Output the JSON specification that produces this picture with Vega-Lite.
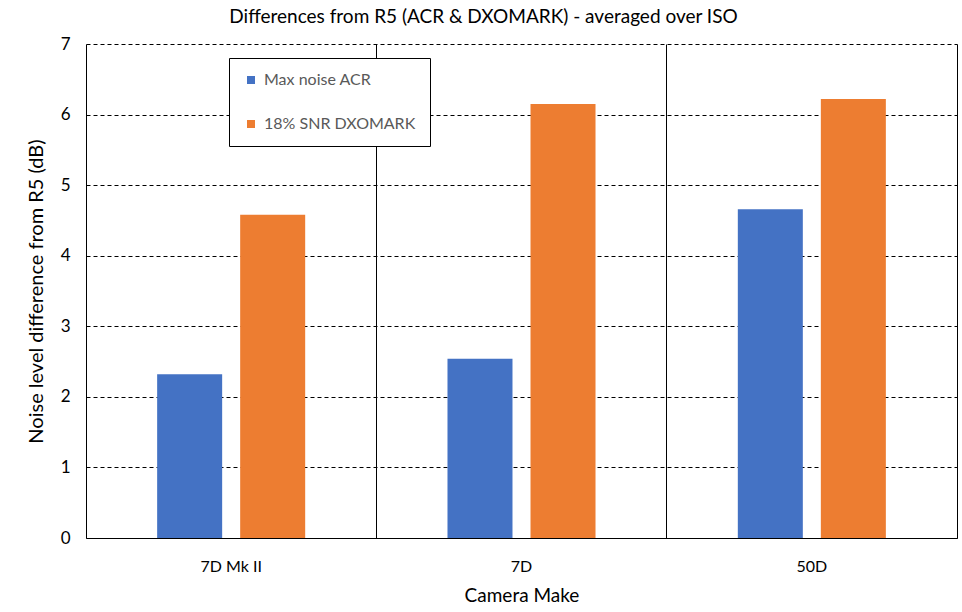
{
  "$schema": "https://vega.github.io/schema/vega-lite/v6.json",
  "autosize": "none",
  "width": 871,
  "height": 494,
  "padding": {"left": 86, "top": 44, "right": 5, "bottom": 74},
  "background": "white",
  "title": {
    "text": "Differences from R5 (ACR & DXOMARK) - averaged over ISO",
    "font": "Lato",
    "fontSize": 19,
    "fontWeight": "normal",
    "color": "#000000",
    "anchor": "middle",
    "dx": -38,
    "offset": 8
  },
  "data": {
    "values": [
      {"camera": "7D Mk II", "measure": "Max noise ACR", "diff": 2.32},
      {"camera": "7D Mk II", "measure": "18% SNR DXOMARK", "diff": 4.58},
      {"camera": "7D", "measure": "Max noise ACR", "diff": 2.54},
      {"camera": "7D", "measure": "18% SNR DXOMARK", "diff": 6.15},
      {"camera": "50D", "measure": "Max noise ACR", "diff": 4.66},
      {"camera": "50D", "measure": "18% SNR DXOMARK", "diff": 6.22}
    ]
  },
  "mark": "bar",
  "encoding": {
    "x": {
      "field": "camera",
      "type": "nominal",
      "sort": ["7D Mk II", "7D", "50D"],
      "title": "Camera Make",
      "scale": {"paddingInner": 0, "paddingOuter": 0},
      "axis": {
        "labelAngle": 0,
        "labelFontSize": 16,
        "labelPadding": 20,
        "titleFontSize": 19,
        "titlePadding": 12,
        "ticks": false,
        "grid": true,
        "bandPosition": 1,
        "gridColor": "#000000",
        "gridWidth": 1,
        "gridOpacity": 1
      }
    },
    "xOffset": {
      "field": "measure",
      "type": "nominal",
      "sort": ["Max noise ACR", "18% SNR DXOMARK"],
      "scale": {"paddingInner": 0.217, "paddingOuter": 0.857}
    },
    "y": {
      "field": "diff",
      "type": "quantitative",
      "title": "Noise level difference from R5 (dB)",
      "scale": {"domain": [0, 7], "nice": false},
      "axis": {
        "values": [0, 1, 2, 3, 4, 5, 6, 7],
        "labelOverlap": false,
        "labelFontSize": 17,
        "labelPadding": 16,
        "titleFontSize": 20,
        "titlePadding": 14,
        "ticks": false,
        "grid": true,
        "gridDash": [4, 3],
        "gridColor": "#000000",
        "gridWidth": 1,
        "gridOpacity": 1
      }
    },
    "color": {
      "field": "measure",
      "type": "nominal",
      "sort": ["Max noise ACR", "18% SNR DXOMARK"],
      "scale": {
        "domain": ["Max noise ACR", "18% SNR DXOMARK"],
        "range": ["#4472C4", "#ED7D31"]
      },
      "legend": {
        "title": null,
        "orient": "none",
        "legendX": 143,
        "legendY": 14,
        "symbolType": "square",
        "symbolSize": 64,
        "symbolStrokeWidth": 0,
        "labelFontSize": 16,
        "labelColor": "#595959",
        "labelFont": "Lato",
        "labelOffset": 5,
        "rowPadding": 28,
        "padding": 14,
        "strokeColor": "#000000",
        "fillColor": "#ffffff",
        "labelLimit": 300
      }
    }
  },
  "config": {
    "font": "Lato",
    "view": {"stroke": null},
    "axis": {
      "domainColor": "#000000",
      "domainWidth": 1,
      "labelColor": "#000000",
      "titleColor": "#000000",
      "titleFontWeight": "normal",
      "labelFont": "Lato",
      "titleFont": "Lato"
    }
  }
}
